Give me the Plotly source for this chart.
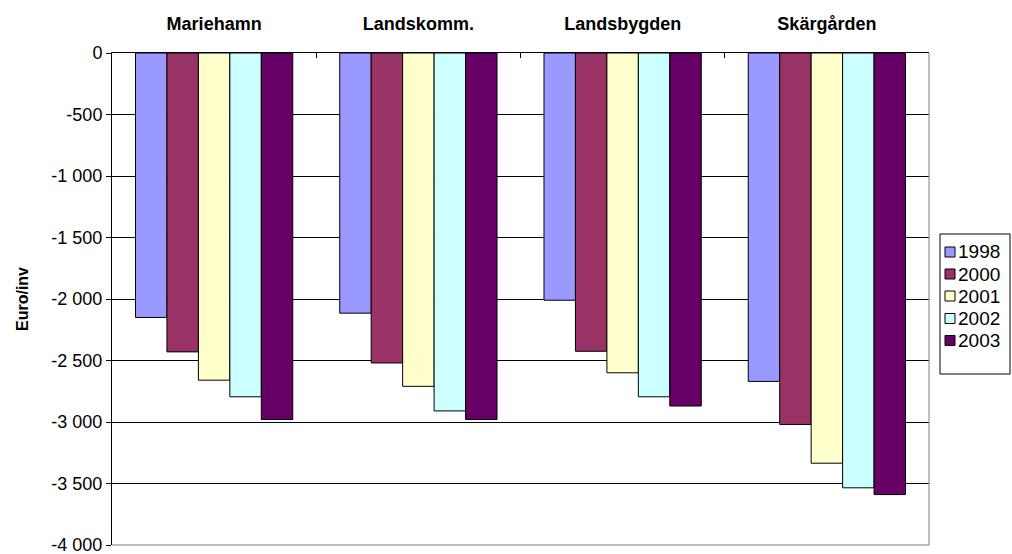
import plotly.graph_objects as go

categories = ["Mariehamn", "Landskomm.", "Landsbygden", "Skärgården"]
years = ["1998", "2000", "2001", "2002", "2003"]
values_1998 = [-2150, -2115, -2010, -2670]
values_2000 = [-2430, -2520, -2425, -3020]
values_2001 = [-2660, -2710, -2600, -3335]
values_2002 = [-2795, -2910, -2795, -3535]
values_2003 = [-2980, -2980, -2870, -3590]
series = [values_1998, values_2000, values_2001, values_2002, values_2003]
colors = ["#9999FF", "#993366", "#FFFFCC", "#CCFFFF", "#660066"]

tick_vals = [0, -500, -1000, -1500, -2000, -2500, -3000, -3500, -4000]
tick_text = ["0", "-500", "-1 000", "-1 500", "-2 000", "-2 500", "-3 000", "-3 500", "-4 000"]

FONT = "Liberation Sans, Arial, sans-serif"
W, H = 1012, 554
ML, MT = 112, 53
PW = 929 - 112
PH = 545 - 53
MR = W - ML - PW
MB = H - MT - PH

def px_x(px):
    return (px - ML) / PW

def px_y(py):
    return (H - MB - py) / PH

fig = go.Figure()
for name, vals, col in zip(years, series, colors):
    fig.add_trace(go.Bar(
        x=categories, y=vals, name=name,
        marker=dict(color=col, line=dict(color="black", width=1)),
    ))

shapes = [
    dict(type="line", xref="paper", yref="paper", x0=1, x1=1, y0=0, y1=1,
         line=dict(color="#808080", width=1)),
    dict(type="line", xref="paper", yref="paper", x0=0, x1=1, y0=0, y1=0,
         line=dict(color="#808080", width=1)),
    # legend box
    dict(type="rect", xref="paper", yref="paper",
         x0=px_x(940), x1=px_x(1010), y0=px_y(374), y1=px_y(234),
         line=dict(color="black", width=1), fillcolor="white", layer="above"),
]
annotations = [
    dict(text="<b>Euro/inv</b>", xref="paper", yref="paper",
         x=px_x(22), y=0.5, xanchor="center", yanchor="middle",
         textangle=-90, showarrow=False, font=dict(size=16)),
]
item_centers = [252, 274, 296, 318.5, 340.5]
for name, col, cy in zip(years, colors, item_centers):
    shapes.append(dict(type="rect", xref="paper", yref="paper",
                       x0=px_x(945), x1=px_x(955), y0=px_y(cy + 5), y1=px_y(cy - 5),
                       line=dict(color="black", width=1), fillcolor=col, layer="above"))
    annotations.append(dict(text=name, xref="paper", yref="paper",
                            x=px_x(956), y=px_y(cy), xanchor="left", yanchor="middle",
                            showarrow=False, font=dict(size=19)))

fig.update_layout(
    width=W, height=H,
    margin=dict(l=ML, r=MR, t=MT, b=MB),
    paper_bgcolor="white", plot_bgcolor="white",
    barmode="group", bargap=0.23, bargroupgap=0,
    font=dict(family=FONT, size=18, color="black"),
    showlegend=False,
    xaxis=dict(
        side="top", showgrid=False, showline=True, linecolor="black",
        linewidth=1, ticks="inside", tickson="boundaries", ticklen=5,
        tickcolor="black", automargin=False, ticklabelstandoff=15,
        tickfont=dict(family=FONT, size=18, weight="bold"),
    ),
    yaxis=dict(
        range=[-4000, 0], tickvals=tick_vals, ticktext=tick_text,
        showgrid=True, gridcolor="black", gridwidth=1,
        showline=True, linecolor="black", linewidth=1,
        ticks="outside", ticklen=5, tickcolor="black",
        zeroline=False, automargin=False, ticklabeloverflow="allow",
        tickfont=dict(size=18),
    ),
    shapes=shapes,
    annotations=annotations,
)

fig.write_html(
    "out.html",
    config={"displayModeBar": False},
    post_script="document.body.style.margin='0';document.body.style.overflow='hidden';",
)
